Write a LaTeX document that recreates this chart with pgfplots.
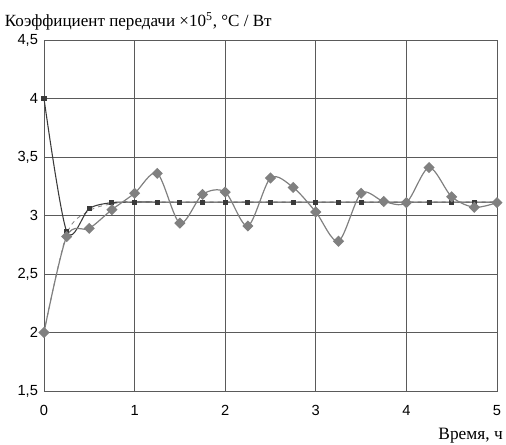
\documentclass[border=0pt]{standalone}
\usepackage{fontspec}
\setmainfont{Liberation Serif}
\newfontfamily\arial{Liberation Sans}
\usepackage{pgfplots}
\pgfplotsset{compat=1.18}
\definecolor{gridc}{HTML}{5A5A5A}
\definecolor{diam}{HTML}{808080}
\definecolor{sq}{HTML}{3A3A3A}
\begin{document}
\begin{tikzpicture}
\begin{axis}[
  name=ax,
  scale only axis,
  width=339.75pt, height=263.25pt,
  xmin=0, xmax=5, ymin=1.5, ymax=4.5,
  xtick={0,1,2,3,4,5},
  ytick={1.5,2,2.5,3,3.5,4,4.5},
  yticklabels={{1,5},{2},{2,5},{3},{3,5},{4},{4,5}},
  /pgf/number format/assume math mode=true,
  tick label style={font=\arial\fontsize{11}{13}\selectfont},
  xticklabel style={yshift=-7pt},
  yticklabel style={xshift=-1pt},
  major tick length=0pt,
  grid=major,
  grid style={gridc, line width=0.6pt},
  axis line style={gridc, line width=0.6pt},
  clip=false,
]
\addplot[diam, dashed, line width=0.6pt, smooth, mark=none]
  coordinates {(0,2) (0.25,2.84) (0.5,3.04) (0.75,3.10) (1,3.115) (1.5,3.115) (2,3.115) (2.5,3.115) (3,3.115) (3.5,3.115) (4,3.115) (4.5,3.115) (5,3.115)};
\addplot[sq, line width=0.8pt, smooth, mark=square*, mark size=1.5pt]
  coordinates {(0,4) (0.25,2.865) (0.5,3.06) (0.75,3.11) (1,3.115) (1.25,3.115) (1.5,3.115) (1.75,3.115) (2,3.115) (2.25,3.115) (2.5,3.115) (2.75,3.115) (3,3.115) (3.25,3.115) (3.5,3.115) (3.75,3.115) (4,3.115) (4.25,3.115) (4.5,3.115) (4.75,3.115) (5,3.115)};
\addplot[diam, line width=0.9pt, smooth, mark=square*, mark size=2.5pt, mark options={rotate=45}]
  coordinates {(0,2) (0.25,2.82) (0.5,2.89) (0.75,3.05) (1,3.19) (1.25,3.36) (1.5,2.935) (1.75,3.18) (2,3.20) (2.25,2.91) (2.5,3.32) (2.75,3.24) (3,3.03) (3.25,2.78) (3.5,3.19) (3.75,3.12) (4,3.11) (4.25,3.41) (4.5,3.16) (4.75,3.07) (5,3.11)};
\node[anchor=base west, inner sep=0pt, font=\fontsize{12.8}{15}\selectfont]
  at (rel axis cs:0,1) [xshift=-29.5pt, yshift=10pt]
  {Коэффициент передачи ×10\textsuperscript{5}, °C / Вт};
\node[anchor=base east, inner sep=0pt, font=\fontsize{13}{15}\selectfont]
  at (rel axis cs:1,0) [xshift=4.5pt, yshift=-36.75pt] {Время, ч};
\end{axis}
\path (ax.south west) ++(-33pt,-40.5pt);
\path (ax.north east) ++(6.75pt,30pt);
\end{tikzpicture}
\end{document}
